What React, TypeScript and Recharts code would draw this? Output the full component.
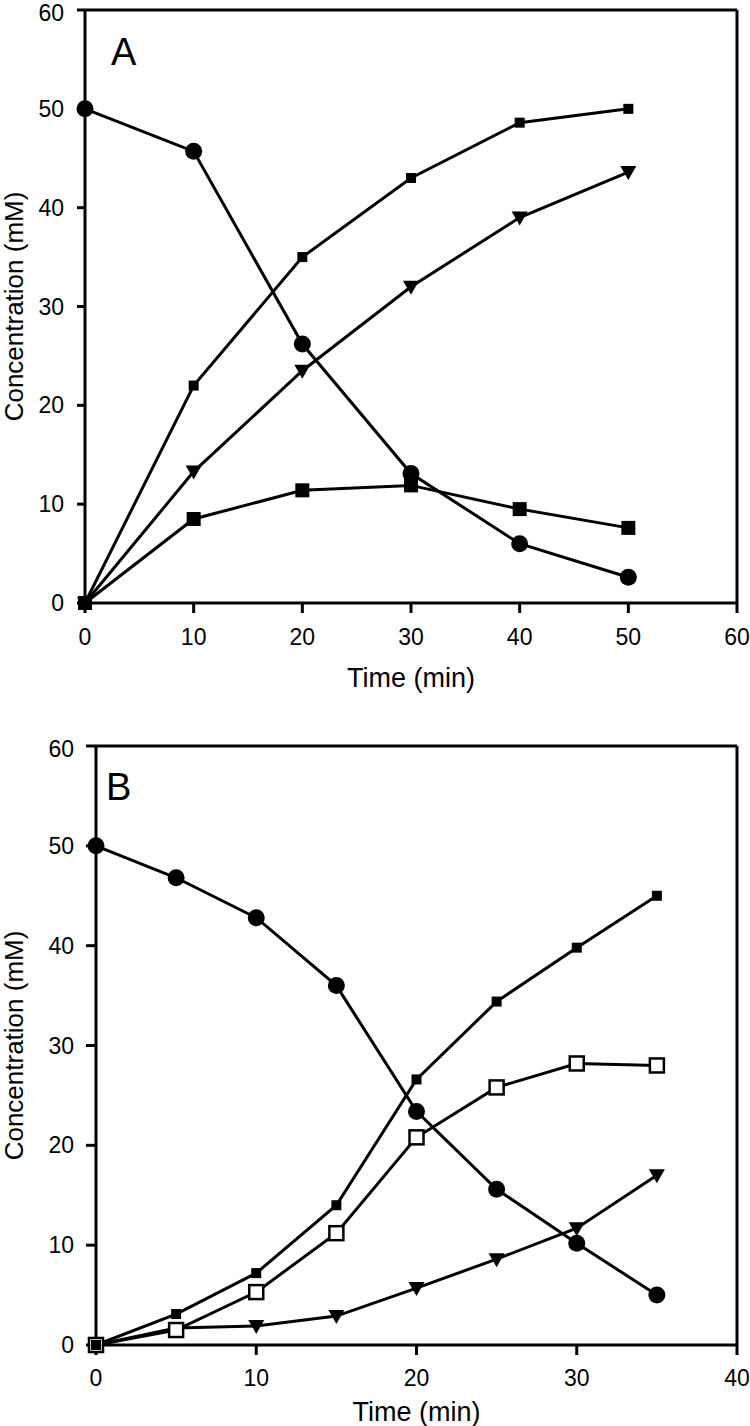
import React from "react";
import { LineChart, Line, XAxis, YAxis, ReferenceLine } from "recharts";

// Panel A
const timeA = [0, 10, 20, 30, 40, 50];
const circleA = [50, 45.7, 26.2, 13.1, 6.0, 2.6];
const smallSquareA = [0, 22, 35, 43, 48.6, 50];
const triangleA = [0, 13.3, 23.5, 32, 39, 43.6];
const bigSquareA = [0, 8.5, 11.4, 11.9, 9.5, 7.6];
const xTicksA = [0, 10, 20, 30, 40, 50, 60];

// Panel B
const timeB = [0, 5, 10, 15, 20, 25, 30, 35];
const circleB = [50, 46.8, 42.8, 36, 23.4, 15.6, 10.2, 5.0];
const smallSquareB = [0, 3.1, 7.2, 14, 26.6, 34.4, 39.8, 45];
const openSquareB = [0, 1.5, 5.3, 11.2, 20.8, 25.8, 28.2, 28];
const triangleB = [0, 1.7, 1.9, 2.9, 5.7, 8.6, 11.7, 17];
const xTicksB = [0, 10, 20, 30, 40];

const yTicks = [0, 10, 20, 30, 40, 50, 60];

const FONT = "'Liberation Sans', Arial, sans-serif";
const INK = "#000";

const dataA = timeA.map((t, i) => ({
    t,
    circle: circleA[i],
    small: smallSquareA[i],
    tri: triangleA[i],
    big: bigSquareA[i],
}));

const dataB = timeB.map((t, i) => ({
    t,
    circle: circleB[i],
    small: smallSquareB[i],
    open: openSquareB[i],
    tri: triangleB[i],
}));

// marker shapes
const CircleDot = (p: any) =>
    p.cx == null ? null : <circle key={p.key} cx={p.cx} cy={p.cy} r={8.5} fill={INK} />;

const squareDot = (size: number, open = false) => (p: any) =>
    p.cx == null ? null : (
        <rect
            key={p.key}
            x={p.cx - size / 2}
            y={p.cy - size / 2}
            width={size}
            height={size}
            fill={open ? "#fff" : INK}
            stroke={INK}
            strokeWidth={open ? 2.5 : 0}
        />
    );

const TriDot = (p: any) =>
    p.cx == null ? null : (
        <path
            key={p.key}
            d={`M${p.cx - 8},${p.cy - 6} L${p.cx + 8},${p.cy - 6} L${p.cx},${p.cy + 8} Z`}
            fill={INK}
        />
    );

const YTitle = ({ viewBox }: any) => {
    const x = 14;
    const y = viewBox.y + viewBox.height / 2;
    return (
        <text
            x={x}
            y={y}
            transform={`rotate(-90, ${x}, ${y})`}
            textAnchor="middle"
            dominantBaseline="central"
            fontFamily={FONT}
            fontSize={26}
            fill={INK}
        >
            Concentration (mM)
        </text>
    );
};

const xTitle = (offset: number) => ({ viewBox }: any) => (
    <text
        x={viewBox.x + viewBox.width / 2}
        y={viewBox.y + offset}
        textAnchor="middle"
        fontFamily={FONT}
        fontSize={27}
        fill={INK}
    >
        Time (min)
    </text>
);

const tickStyle = { fill: INK, fontSize: 23, fontFamily: FONT };
const lineProps = {
    stroke: INK,
    strokeWidth: 3,
    isAnimationActive: false,
    activeDot: false as const,
    type: "linear" as const,
};

function PanelLetter({ x, y, text }: { x: number; y: number; text: string }) {
    return (
        <text x={x} y={y} fontFamily={FONT} fontSize={38} fill={INK}>
            {text}
        </text>
    );
}

export default function App() {
    return (
        <div
            style={{
                position: "absolute",
                left: 0,
                top: 0,
                width: 750,
                height: 1426,
                background: "#fff",
            }}
        >
            <div style={{ position: "absolute", left: 0, top: 0 }}>
                <LineChart
                    width={750}
                    height={720}
                    data={dataA}
                    margin={{ top: 10, right: 13, left: 0, bottom: 0 }}
                >
                    <XAxis
                        dataKey="t"
                        type="number"
                        domain={[0, 60]}
                        ticks={xTicksA}
                        height={117}
                        tick={tickStyle}
                        tickSize={10}
                        tickMargin={16}
                        axisLine={{ stroke: INK, strokeWidth: 3 }}
                        tickLine={{ stroke: INK, strokeWidth: 3 }}
                        label={{ content: xTitle(84) }}
                    />
                    <YAxis
                        type="number"
                        domain={[0, 60]}
                        ticks={yTicks}
                        width={85}
                        tick={tickStyle}
                        tickSize={8}
                        tickMargin={13}
                        axisLine={{ stroke: INK, strokeWidth: 3 }}
                        tickLine={{ stroke: INK, strokeWidth: 3 }}
                        label={{ content: YTitle }}
                    />
                    <ReferenceLine y={60} stroke={INK} strokeWidth={3} />
                    <ReferenceLine x={60} stroke={INK} strokeWidth={3} />
                    <Line dataKey="big" {...lineProps} dot={squareDot(14)} />
                    <Line dataKey="tri" {...lineProps} dot={TriDot} />
                    <Line dataKey="circle" {...lineProps} dot={CircleDot} />
                    <Line dataKey="small" {...lineProps} dot={squareDot(10)} />
                    <PanelLetter x={111} y={65} text="A" />
                </LineChart>
            </div>
            <div style={{ position: "absolute", left: 0, top: 736 }}>
                <LineChart
                    width={750}
                    height={690}
                    data={dataB}
                    margin={{ top: 10, right: 13, left: 0, bottom: 0 }}
                >
                    <XAxis
                        dataKey="t"
                        type="number"
                        domain={[0, 40]}
                        ticks={xTicksB}
                        height={81}
                        tick={tickStyle}
                        tickSize={10}
                        tickMargin={15}
                        axisLine={{ stroke: INK, strokeWidth: 3 }}
                        tickLine={{ stroke: INK, strokeWidth: 3 }}
                        label={{ content: xTitle(76) }}
                    />
                    <YAxis
                        type="number"
                        domain={[0, 60]}
                        ticks={yTicks}
                        width={96}
                        tick={tickStyle}
                        tickSize={10}
                        tickMargin={12}
                        axisLine={{ stroke: INK, strokeWidth: 3 }}
                        tickLine={{ stroke: INK, strokeWidth: 3 }}
                        label={{ content: YTitle }}
                    />
                    <ReferenceLine y={60} stroke={INK} strokeWidth={3} />
                    <ReferenceLine x={40} stroke={INK} strokeWidth={3} />
                    <Line dataKey="tri" {...lineProps} dot={TriDot} />
                    <Line dataKey="open" {...lineProps} dot={squareDot(14, true)} />
                    <Line dataKey="circle" {...lineProps} dot={CircleDot} />
                    <Line dataKey="small" {...lineProps} dot={squareDot(10)} />
                    <PanelLetter x={106} y={64} text="B" />
                </LineChart>
            </div>
        </div>
    );
}
